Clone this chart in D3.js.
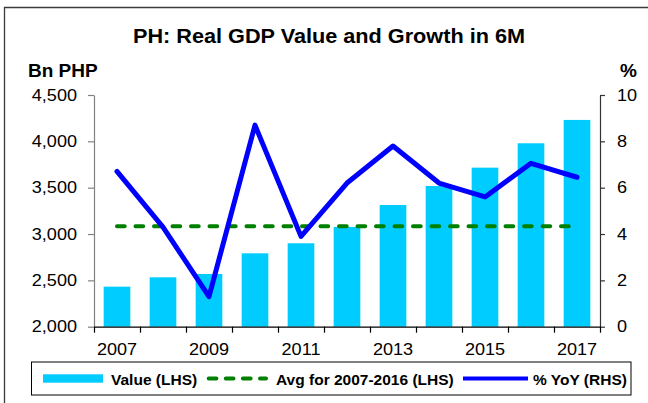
<!DOCTYPE html>
<html>
<head>
<meta charset="utf-8">
<script src="https://cdn.jsdelivr.net/npm/d3@7"></script>
<style>
  html, body { margin: 0; padding: 0; background: #fff; }
  svg { display: block; font-family: "Liberation Sans", Arial, sans-serif; }
</style>
</head>
<body>
<svg id="chart" width="648" height="403"></svg>
<script>
// ---- Data ----
const years = ["2007","2008","2009","2010","2011","2012","2013","2014","2015","2016","2017"];
const gdpValue = [2432, 2533, 2569, 2792, 2900, 3076, 3313, 3518, 3716, 3979, 4231];
const avgValue = [3084, 3084, 3084, 3084, 3084, 3084, 3084, 3084, 3084, 3084, 3084];
const yoyGrowth = [6.7, 4.3, 1.3, 8.7, 3.9, 6.2, 7.8, 6.2, 5.6, 7.05, 6.45];
const leftTicks = [2000, 2500, 3000, 3500, 4000, 4500];
const rightTicks = [0, 2, 4, 6, 8, 10];
const xLabelYears = ["2007","2009","2011","2013","2015","2017"];
const titleText = "PH: Real GDP Value and Growth in 6M";
const leftUnit = "Bn PHP";
const rightUnit = "%";
const legendLabels = ["Value (LHS)", "Avg for 2007-2016 (LHS)", "% YoY (RHS)"];

// ---- Layout ----
const L = 94, R = 600, T = 95, B = 326.7;
const svg = d3.select("#chart");
const tickScale = 1.13;

const x = d3.scaleBand().domain(years).range([L, R]).padding(0);
const xEdge = d3.scaleLinear().domain([0, years.length]).range([L, R]);
const yL = d3.scaleLinear().domain([2000, 4500]).range([B, T]);
const yR = d3.scaleLinear().domain([0, 10]).range([B, T]);

// outer frame
svg.append("path")
  .attr("d", "M4.5,403 L4.5,7.5 L648,7.5")
  .attr("fill", "none").attr("stroke", "#3a3a3a").attr("stroke-width", 1.3);

// title
svg.append("text").text(titleText)
  .attr("x", 133).attr("y", 43.3)
  .attr("textLength", 392).attr("lengthAdjust", "spacingAndGlyphs")
  .attr("font-size", 20).attr("font-weight", "bold").attr("fill", "#000");

svg.append("text").text(leftUnit)
  .attr("x", 28).attr("y", 76.7)
  .attr("font-size", 19).attr("font-weight", "bold");
svg.append("text").text(rightUnit)
  .attr("x", 637).attr("y", 76.5).attr("text-anchor", "end")
  .attr("font-size", 19).attr("font-weight", "bold");

// bars
const bw = x.bandwidth() * 0.58;
svg.append("g").selectAll("rect").data(years).join("rect")
  .attr("x", (d) => x(d) + x.bandwidth() / 2 - bw / 2)
  .attr("width", bw)
  .attr("y", (d, i) => yL(gdpValue[i]))
  .attr("height", (d, i) => B - yL(gdpValue[i]))
  .attr("fill", "#00CCFF");

// avg dashed line
const avgLine = d3.line()
  .x((d, i) => x(years[i]) + x.bandwidth() / 2)
  .y((d) => yL(d));
svg.append("path").datum(avgValue)
  .attr("d", avgLine)
  .attr("fill", "none").attr("stroke", "#008000")
  .attr("stroke-width", 4).attr("stroke-linecap", "round")
  .attr("stroke-dasharray", "7.7,10.8");

// yoy line
const yoyLine = d3.line()
  .x((d, i) => x(years[i]) + x.bandwidth() / 2)
  .y((d) => yR(d));
svg.append("path").datum(yoyGrowth)
  .attr("d", yoyLine)
  .attr("fill", "none").attr("stroke", "#0000FF")
  .attr("stroke-width", 5).attr("stroke-linejoin", "round").attr("stroke-linecap", "round");

// axes
function styleTicks(g, color) {
  g.select(".domain").attr("stroke", color).attr("stroke-width", 1.2);
  g.selectAll(".tick line").attr("stroke", color).attr("stroke-width", 1.2);
  g.selectAll(".tick text")
    .attr("font-size", 16).attr("fill", "#000")
    .attr("font-family", "'Liberation Sans', Arial, sans-serif");
}

const gL = svg.append("g").attr("transform", `translate(${L},0)`)
  .call(d3.axisLeft(yL).tickValues(leftTicks).tickSize(6).tickPadding(11)
    .tickSizeOuter(0).tickFormat(d3.format(",")));
styleTicks(gL, "#808080");
gL.selectAll(".tick text").each(function() {
  d3.select(this).attr("transform", `translate(${-17},0) scale(${tickScale},1)`).attr("x", 0);
});

const gR = svg.append("g").attr("transform", `translate(${R},0)`)
  .call(d3.axisRight(yR).tickValues(rightTicks).tickSize(5).tickPadding(12)
    .tickSizeOuter(0));
styleTicks(gR, "#333");
gR.selectAll(".tick text").each(function() {
  d3.select(this).attr("transform", `translate(${17},0) scale(${tickScale},1)`).attr("x", 0);
});

// x ticks at band edges
const gXt = svg.append("g").attr("transform", `translate(0,${B})`)
  .call(d3.axisBottom(xEdge).tickValues(d3.range(0, years.length + 1))
    .tickSize(6).tickSizeOuter(0).tickFormat(""));
gXt.select(".domain").attr("stroke", "#000").attr("stroke-width", 1.2);
gXt.selectAll(".tick line").attr("stroke", "#000").attr("stroke-width", 1.2);

// x labels
const gX = svg.append("g").attr("transform", `translate(0,${B})`)
  .call(d3.axisBottom(x).tickValues(xLabelYears).tickSize(0).tickPadding(17));
gX.select(".domain").remove();
gX.selectAll(".tick text")
  .attr("font-size", 16).attr("fill", "#000")
  .attr("font-family", "'Liberation Sans', Arial, sans-serif")
  .attr("transform", `scale(${tickScale},1)`);

// legend
const lg = svg.append("g");
lg.append("rect").attr("x", 31.5).attr("y", 362).attr("width", 599.5).attr("height", 33)
  .attr("fill", "#fff").attr("stroke", "#000").attr("stroke-width", 1);
lg.append("rect").attr("x", 43).attr("y", 374.3).attr("width", 60).attr("height", 8.4)
  .attr("fill", "#00CCFF");
lg.append("line").attr("x1", 208.7).attr("x2", 266).attr("y1", 378.5).attr("y2", 378.5)
  .attr("stroke", "#008000").attr("stroke-width", 4).attr("stroke-linecap", "round")
  .attr("stroke-dasharray", "7.7,9.4");
lg.append("line").attr("x1", 463).attr("x2", 528).attr("y1", 378.5).attr("y2", 378.5)
  .attr("stroke", "#0000FF").attr("stroke-width", 4);
const legX = [111, 276, 533];
lg.selectAll("text.leg").data(legendLabels).join("text")
  .attr("class", "leg")
  .attr("x", (d, i) => legX[i]).attr("y", 384.7)
  .attr("font-size", 15.5).attr("font-weight", "bold")
  .text((d) => d);
</script>
</body>
</html>
